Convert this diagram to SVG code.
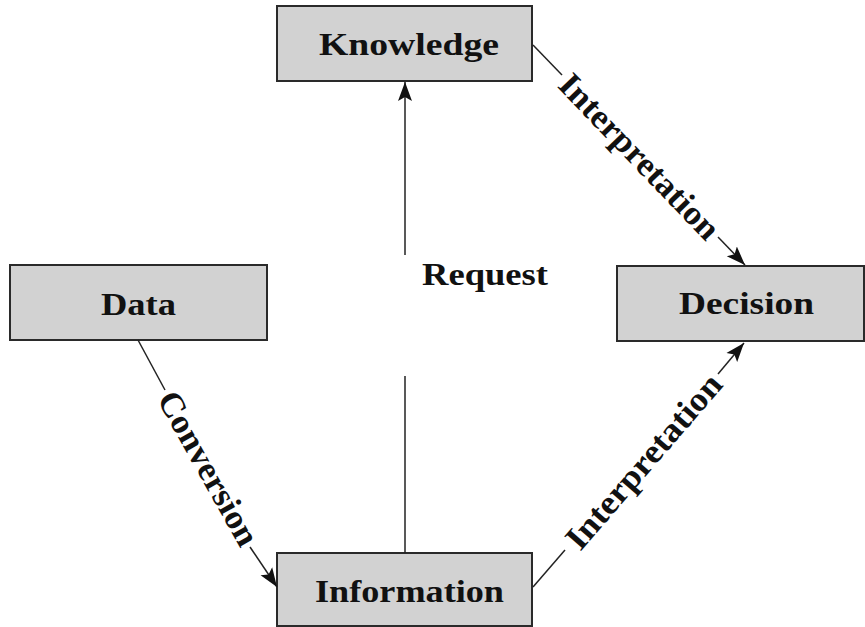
<svg xmlns="http://www.w3.org/2000/svg" width="865" height="627" viewBox="0 0 865 627">
<style>
.box{fill:#d2d2d2;stroke:#2a2a2a;stroke-width:2}
.lbl{font-family:"Liberation Serif","Times New Roman",serif;font-weight:bold;font-size:32px;fill:#111}
.diag{font-size:34px}
.edge{stroke:#222;stroke-width:1.5;fill:none}
</style>
<defs>
<marker id="arr" markerUnits="userSpaceOnUse" markerWidth="20" markerHeight="16" refX="19" refY="8" orient="auto">
<path d="M0,1 L19,8 L0,15 L4,8 z" fill="#111"/>
</marker>
</defs>
<rect width="865" height="627" fill="#fff"/>
<g id="knowledge"><rect class="box" x="277" y="6" width="255" height="75"/><text class="lbl" x="319" y="55" textLength="180" lengthAdjust="spacingAndGlyphs">Knowledge</text></g>
<g id="data"><rect class="box" x="10" y="265" width="257" height="75"/><text class="lbl" x="101" y="315" textLength="75" lengthAdjust="spacingAndGlyphs">Data</text></g>
<g id="decision"><rect class="box" x="617" y="266" width="247" height="75"/><text class="lbl" x="679" y="314" textLength="135" lengthAdjust="spacingAndGlyphs">Decision</text></g>
<g id="information"><rect class="box" x="277" y="553" width="255" height="73"/><text class="lbl" x="315" y="602" textLength="189" lengthAdjust="spacingAndGlyphs">Information</text></g>
<g id="connectors">
<line class="edge" x1="405" y1="553" x2="405" y2="376"/>
<line class="edge" x1="405" y1="255" x2="405" y2="82" marker-end="url(#arr)"/>
<text class="lbl" x="422" y="285" textLength="126" lengthAdjust="spacingAndGlyphs">Request</text>
<line class="edge" x1="533" y1="45" x2="562" y2="75"/>
<line class="edge" x1="718" y1="237" x2="745" y2="265" marker-end="url(#arr)"/>
<g transform="translate(640,156) rotate(46.06)"><text class="lbl diag" x="-108" y="12" textLength="216" lengthAdjust="spacingAndGlyphs">Interpretation</text></g>
<line class="edge" x1="533" y1="587" x2="565" y2="550"/>
<line class="edge" x1="718" y1="374" x2="744" y2="343" marker-end="url(#arr)"/>
<g transform="translate(643,461) rotate(-49.15)"><text class="lbl diag" x="-110" y="12" textLength="220" lengthAdjust="spacingAndGlyphs">Interpretation</text></g>
<line class="edge" x1="138" y1="340" x2="165" y2="390"/>
<line class="edge" x1="250" y1="547" x2="277" y2="587" marker-end="url(#arr)"/>
<g transform="translate(209,468) rotate(60.64)"><text class="lbl diag" x="-86" y="12" textLength="172" lengthAdjust="spacingAndGlyphs">Conversion</text></g>
</g>
</svg>
